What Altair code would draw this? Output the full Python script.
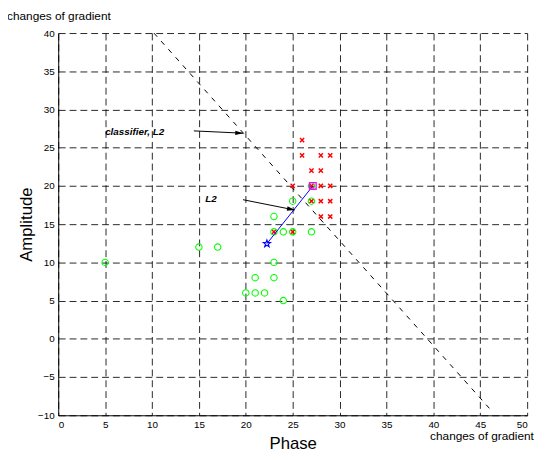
import math
import altair as alt
import pandas as pd

# ---- data ----
green_x = [5, 15, 17, 20, 21, 21, 22, 23, 23, 23, 23, 24, 24, 25, 25, 27, 27, 27]
green_y = [10, 12, 12, 6, 6, 8, 6, 8, 10, 14, 16, 5, 14, 14, 18, 14, 18, 20]

red_x = [26, 26, 28, 29, 27, 28, 25, 27, 28, 29, 27, 28, 29, 28, 29, 23, 25]
red_y = [26, 24, 24, 24, 22, 22, 20, 20, 20, 20, 18, 18, 18, 16, 16, 14, 14]

star_x = [22.25]
star_y = [12.45]
square_x = [27.15]
square_y = [20.0]

classifier_x = [10.2, 46.2]
classifier_y = [40.0, -9.4]

arrow_cls_x = [14.46, 19.72]
arrow_cls_y = [27.2, 26.9]
arrow_l2_x = [19.7, 25.23]
arrow_l2_y = [18.2, 16.85]

label_text = ["classifier, L2", "L2"]
label_x = [5.0, 15.68]
label_y = [27.1, 18.3]

tick_values = list(range(0, 51, 5))
ytick_values = list(range(-10, 41, 5))

W, H = 476, 388
FONT = "Liberation Sans"

xs = alt.Scale(domain=[0, 50], nice=False, zero=False)
ys = alt.Scale(domain=[-10, 40], nice=False, zero=False)

xaxis = alt.Axis(values=tick_values, title="Phase", titleFontSize=17,
                 titleFontWeight="normal", titleFont=FONT, titleColor="black",
                 titleX=W / 2, titleY=34, titleAlign="center",
                 titleBaseline="alphabetic", labelPadding=4)
yaxis = alt.Axis(values=ytick_values, title="Amplitude", titleFontSize=17,
                 titleFontWeight="normal", titleFont=FONT, titleColor="black",
                 titleAngle=270, titleX=-27, titleY=H / 2, titleAlign="center",
                 titleBaseline="alphabetic", labelPadding=4)


def enc(xcol="x", ycol="y"):
    return dict(x=alt.X(f"{xcol}:Q", scale=xs, axis=xaxis),
                y=alt.Y(f"{ycol}:Q", scale=ys, axis=yaxis))


green_df = pd.DataFrame({"x": green_x, "y": green_y})
red_df = pd.DataFrame({"x": red_x, "y": red_y})
star_df = pd.DataFrame({"x": star_x, "y": star_y})
square_df = pd.DataFrame({"x": square_x, "y": square_y})
cls_df = pd.DataFrame({"x": classifier_x, "y": classifier_y})
blue_df = pd.DataFrame({"x": star_x + square_x, "y": star_y + square_y})
arrows_df = pd.DataFrame({
    "x": arrow_cls_x + arrow_l2_x,
    "y": arrow_cls_y + arrow_l2_y,
    "g": ["a", "a", "b", "b"],
    "o": [0, 1, 0, 1],
})

px_x = W / 50.0
px_y = H / 50.0


def head_angle(xv, yv):
    dx = (xv[1] - xv[0]) * px_x
    dy = -(yv[1] - yv[0]) * px_y
    return math.degrees(math.atan2(dy, dx)) % 360


heads_df = pd.DataFrame({
    "x": [arrow_cls_x[1], arrow_l2_x[1]],
    "y": [arrow_cls_y[1], arrow_l2_y[1]],
    "ang": [head_angle(arrow_cls_x, arrow_cls_y), head_angle(arrow_l2_x, arrow_l2_y)],
})
labels_df = pd.DataFrame({"x": label_x, "y": label_y, "t": label_text})

# marker shapes (unit coordinates)
pts = []
for k in range(10):
    r = 1.0 if k % 2 == 0 else 0.40
    a = math.radians(-90 + 36 * k)
    pts.append(f"{r * math.cos(a):.3f},{r * math.sin(a):.3f}")
STAR = "M" + "L".join(pts) + "Z"
XMARK = "M-1,-1L1,1M-1,1L1,-1"
ARROWHEAD = "M0,0L-1,-0.28L-1,0.28Z"

classifier = alt.Chart(cls_df).mark_line(color="black", strokeWidth=1,
                                          strokeDash=[5, 6]).encode(**enc())
red = alt.Chart(red_df).mark_point(shape=XMARK, filled=False, color="#ff0000",
                                   size=18, strokeWidth=1.5, opacity=1).encode(**enc())
green = alt.Chart(green_df).mark_point(shape="circle", filled=False, color="#00ff00",
                                       size=42, strokeWidth=1.1, opacity=1).encode(**enc())
blue_line = alt.Chart(blue_df).mark_line(color="#0000ff", strokeWidth=1).encode(**enc())
star = alt.Chart(star_df).mark_point(shape=STAR, filled=False, color="#0000ff",
                                     size=60, strokeWidth=1.1, opacity=1).encode(**enc())
square = alt.Chart(square_df).mark_point(shape="square", filled=False, color="#ff00ff",
                                         size=45, strokeWidth=1.3, opacity=1).encode(**enc())
arrows = alt.Chart(arrows_df).mark_line(color="black", strokeWidth=1).encode(
    detail="g:N", order="o:Q", **enc())
heads = alt.Chart(heads_df).mark_point(shape=ARROWHEAD, filled=True, color="black",
                                       size=256, opacity=1).encode(
    angle=alt.Angle("ang:Q", scale=None), **enc())
labels = alt.Chart(labels_df).mark_text(font=FONT, fontSize=10, fontWeight="bold",
                                        fontStyle="italic", align="left",
                                        baseline="middle", color="black").encode(
    text="t:N", **enc())

top_note = alt.Chart(pd.DataFrame({"t": ["changes of gradient"]})).mark_text(
    font=FONT, fontSize=12, align="left", baseline="alphabetic", color="black"
).encode(text="t:N", x=alt.value(-52), y=alt.value(-13.3))
bottom_note = alt.Chart(pd.DataFrame({"t": ["changes of gradient"]})).mark_text(
    font=FONT, fontSize=12, align="left", baseline="alphabetic", color="black"
).encode(text="t:N", x=alt.value(377.5), y=alt.value(413.5))

chart = alt.layer(
    classifier, red, green, blue_line, star, square, arrows, heads, labels,
    top_note, bottom_note
).properties(
    width=W, height=H,
    autosize=alt.AutoSizeParams(type="none"),
    padding={"left": 51, "top": 22, "right": 10, "bottom": 44},
    background="white",
).configure_axis(
    grid=True, gridDash=[7, 4], gridColor="black", gridWidth=1, gridOpacity=0.85,
    domainColor="black", domainWidth=1, ticks=False,
    labelFont=FONT, labelFontSize=10, labelColor="black",
).configure_view(stroke=None)

chart.save("out.html", embed_options={"renderer": "svg", "actions": False})
